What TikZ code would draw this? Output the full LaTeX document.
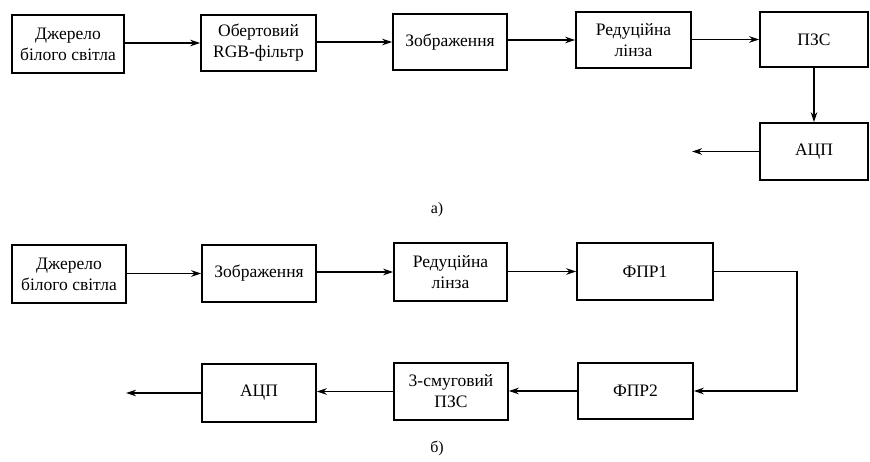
\documentclass[tikz,border=0pt]{standalone}
\usepackage{fontspec}
\setmainfont{Liberation Serif}
\usetikzlibrary{arrows.meta}
\begin{document}
\begin{tikzpicture}[x=1pt,y=-1pt,
  box/.style={draw,line width=1.5pt,inner sep=0pt,align=center,font=\fontsize{17.5}{21}\selectfont},
  conn/.style={line width=1.5pt,-{Stealth[length=10pt,width=6.5pt]}},
  lbl/.style={font=\fontsize{16}{19}\selectfont}]
\useasboundingbox (0,0) rectangle (870,462);
% a)
\node[box,minimum width=112pt,minimum height=58pt] (a1) at (68,44) {Джерело\\білого світла};
\node[box,minimum width=115pt,minimum height=56pt] (a2) at (258.5,43) {Обертовий\\RGB-фільтр};
\node[box,minimum width=114pt,minimum height=56pt] (a3) at (450,42) {Зображення};
\node[box,minimum width=115pt,minimum height=56pt] (a4) at (633.5,40) {Редуційна\\лінза};
\node[box,minimum width=108pt,minimum height=55pt] (a5) at (814,39.5) {ПЗС};
\node[box,minimum width=108pt,minimum height=57pt] (a6) at (814,151.5) {АЦП};
\coordinate (aout) at (692,151.5);
\node[lbl] (la) at (437,210) {а)};
\draw[conn] (a1.east |- a2) -- (a2.west);
\draw[conn] (a2.east |- a3) -- (a3.west);
\draw[conn] (a3.east |- a4) -- (a4.west);
\draw[conn] (a4.east |- a5) -- (a5.west);
\draw[conn] (a5) -- (a6);
\draw[conn] (a6) -- (aout);
% б)
\node[box,minimum width=114pt,minimum height=58pt] (b1) at (69,274) {Джерело\\білого світла};
\node[box,minimum width=114pt,minimum height=57pt] (b2) at (259,273.5) {Зображення};
\node[box,minimum width=113pt,minimum height=58pt] (b3) at (450.5,272) {Редуційна\\лінза};
\node[box,minimum width=136pt,minimum height=57pt] (b4) at (645,271.5) {ФПР1};
\node[box,minimum width=115pt,minimum height=56pt] (b5) at (635.5,391) {ФПР2};
\node[box,minimum width=114pt,minimum height=57pt] (b6) at (451,391.5) {3-смуговий\\ПЗС};
\node[box,minimum width=114pt,minimum height=58pt] (b7) at (259,393) {АЦП};
\coordinate (bout) at (126,393);
\coordinate (bc) at (797,271.5);
\node[lbl] (lb) at (437,448) {б)};
\draw[conn] (b1.east |- b2) -- (b2.west);
\draw[conn] (b2.east |- b3) -- (b3.west);
\draw[conn] (b3.east |- b4) -- (b4.west);
\draw[conn] (b4.east) -- (bc) |- (b5.east);
\draw[conn] (b5.west) -- (b5.west -| b6.east);
\draw[conn] (b6.west) -- (b6.west -| b7.east);
\draw[conn] (b7) -- (bout);
\end{tikzpicture}
\end{document}
